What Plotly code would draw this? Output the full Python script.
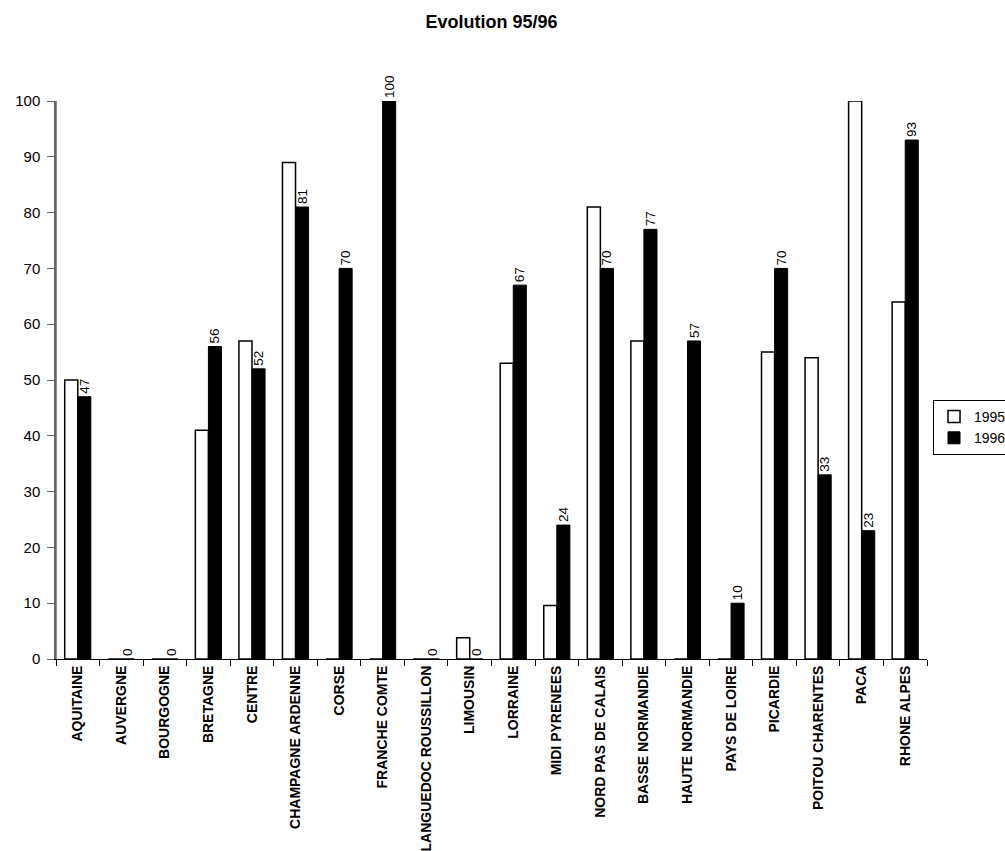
import plotly.graph_objects as go

# Regions on the category axis
regions = [
    "AQUITAINE", "AUVERGNE", "BOURGOGNE", "BRETAGNE", "CENTRE",
    "CHAMPAGNE ARDENNE", "CORSE", "FRANCHE COMTE", "LANGUEDOC ROUSSILLON",
    "LIMOUSIN", "LORRAINE", "MIDI PYRENEES", "NORD PAS DE CALAIS",
    "BASSE NORMANDIE", "HAUTE NORMANDIE", "PAYS DE LOIRE", "PICARDIE",
    "POITOU CHARENTES", "PACA", "RHONE ALPES",
]

# Values per year
values_1995 = [50, 0, 0, 41, 57, 89, 0, 0, 0, 3.8, 53, 9.6, 81, 57, 0, 0, 55, 54, 100, 64]
values_1996 = [47, 0, 0, 56, 52, 81, 70, 100, 0, 0, 67, 24, 70, 77, 57, 10, 70, 33, 23, 93]

y_ticks = [0, 10, 20, 30, 40, 50, 60, 70, 80, 90, 100]

NARROW = "Liberation Sans Narrow, Arial Narrow, Liberation Sans, Arial, sans-serif"
SANS = "Liberation Sans, Arial, sans-serif"

x_range = [-0.5, len(regions) - 0.5]
AXIS_GREY = "#666666"

fig = go.Figure()

fig.add_trace(go.Bar(
    name="1995",
    x=regions,
    y=values_1995,
    marker=dict(color="white", line=dict(color="black", width=1.5)),
))

fig.add_trace(go.Bar(
    name="1996",
    x=regions,
    y=values_1996,
    marker=dict(color="black", line=dict(color="black", width=1)),
    text=[f"{v:g}" for v in values_1996],
    textposition="outside",
    textangle=-90,
    textfont=dict(family=SANS, size=13.5, color="black"),
    constraintext="none",
    cliponaxis=False,
))

fig.update_layout(
    width=1005,
    height=851,
    paper_bgcolor="white",
    plot_bgcolor="white",
    margin=dict(l=56, r=78, t=101, b=192, autoexpand=False),
    barmode="group",
    bargap=0.40,
    bargroupgap=0,
    showlegend=True,
    title=dict(
        text="<b>Evolution 95/96</b>",
        x=0.5, xref="paper", xanchor="center",
        y=1 - 22 / 851, yanchor="middle",
        font=dict(family=NARROW, size=18, color="black"),
    ),
    xaxis=dict(
        type="category",
        categoryorder="array",
        categoryarray=regions,
        range=x_range,
        tickson="boundaries",
        ticks="outside",
        ticklen=6,
        tickcolor="black",
        showline=True,
        linecolor="black",
        linewidth=1,
        tickangle=-90,
        tickfont=dict(family=NARROW, size=14, color="black"),
        tickprefix="<b>",
        ticksuffix="</b>",
        showgrid=False,
        zeroline=False,
    ),
    yaxis=dict(
        range=[0, 100],
        tickmode="array",
        tickvals=y_ticks,
        ticks="outside",
        ticklen=7,
        tickwidth=1,
        tickcolor=AXIS_GREY,
        showline=True,
        linecolor=AXIS_GREY,
        linewidth=1.5,
        tickfont=dict(family=SANS, size=15, color="black"),
        ticklabelstandoff=4,
        showgrid=False,
        zeroline=False,
    ),
    legend=dict(
        x=(933 - 56) / (1005 - 56 - 78),
        xanchor="left",
        y=(659 - 400) / 558,
        yanchor="top",
        bordercolor="black",
        borderwidth=1,
        bgcolor="white",
        font=dict(family=SANS, size=14, color="black"),
        itemwidth=30,
        tracegroupgap=0,
    ),
    # Grey value-axis spine along the left edge of the plot area
    shapes=[dict(
        type="line", xref="paper", yref="paper",
        x0=0, x1=0, y0=0, y1=1,
        line=dict(color=AXIS_GREY, width=1.5),
        layer="above",
    )],
)

fig.write_html("out.html")
